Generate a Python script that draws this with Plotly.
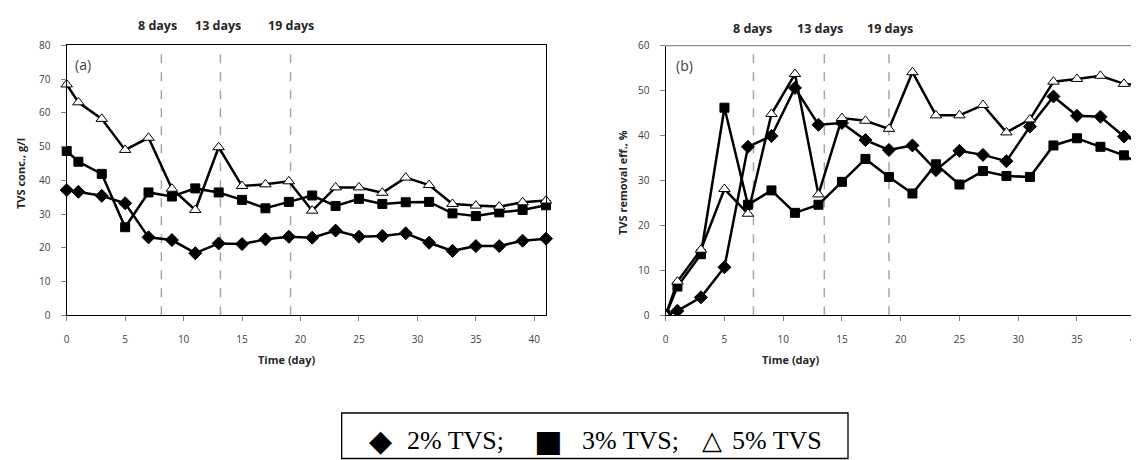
import plotly.graph_objects as go

# ---------------- data ----------------
days = [0, 1, 3, 5, 7, 9, 11, 13, 15, 17, 19, 21, 23, 25, 27, 29, 31, 33, 35, 37, 39, 41]

conc_2 = [37.1, 36.6, 35.4, 33.2, 23.1, 22.3, 18.4, 21.3, 21.1, 22.5, 23.3, 23.0, 25.1, 23.3, 23.5, 24.3, 21.5, 19.1, 20.5, 20.5, 22.1, 22.7]
conc_3 = [48.7, 45.5, 41.9, 26.1, 36.4, 35.2, 37.6, 36.4, 34.2, 31.7, 33.6, 35.5, 32.4, 34.5, 33.0, 33.5, 33.6, 30.2, 29.4, 30.5, 31.2, 32.6]
conc_5 = [68.4, 63.1, 58.2, 49.0, 52.6, 37.5, 31.2, 49.8, 38.3, 38.8, 39.7, 31.0, 37.9, 37.9, 36.3, 40.8, 38.6, 33.0, 32.5, 32.2, 33.5, 34.0]

rem_2 = [0, 1.0, 4.0, 10.7, 37.5, 39.9, 50.6, 42.4, 42.8, 39.0, 36.8, 37.8, 32.3, 36.6, 35.7, 34.3, 42.0, 48.7, 44.4, 44.2, 39.8, 38.2]
rem_3 = [0, 6.4, 13.6, 46.2, 24.6, 27.8, 22.8, 24.6, 29.7, 34.8, 30.8, 27.1, 33.6, 29.1, 32.1, 31.0, 30.8, 37.8, 39.4, 37.5, 35.6, 32.8]
rem_5 = [0, 7.5, 14.6, 28.1, 22.6, 44.8, 53.7, 26.9, 43.9, 43.3, 41.5, 54.1, 44.5, 44.5, 46.8, 40.7, 43.6, 52.0, 52.6, 53.3, 51.5, 51.1]

series_names = ["2% TVS", "3% TVS", "5% TVS"]
marker_labels = ["◆", "■", "△"]

marks_a = [8.1, 13.15, 19.15]
marks_b = [7.47, 13.5, 19.0]
mark_labels = ["8 days", "13 days", "19 days"]

x_ticks = [0, 5, 10, 15, 20, 25, 30, 35, 40]

# ---------------- layout helpers ----------------
# page body has an 8px margin, so the figure is sized to fill the window exactly
OFF = 8
W, H = 1139 - OFF, 460 - OFF


def px(x):
    return (x - OFF) / W


def py(y):
    return 1 - (y - OFF) / H


styles = [
    dict(symbol="diamond", size=10, color="black", line=dict(color="black", width=1)),
    dict(symbol="square", size=9, color="black", line=dict(color="black", width=1)),
    dict(symbol="triangle-up", size=10, color="white", line=dict(color="black", width=1)),
]

fig = go.Figure()
for vals, st, name in zip([conc_2, conc_3, conc_5], styles, series_names):
    fig.add_trace(go.Scatter(x=days, y=vals, xaxis="x", yaxis="y", name=name,
                             mode="lines+markers", line=dict(color="black", width=2.5),
                             marker=st, cliponaxis=False, showlegend=False))
for vals, st, name in zip([rem_2, rem_3, rem_5], styles, series_names):
    fig.add_trace(go.Scatter(x=days, y=vals, xaxis="x2", yaxis="y2", name=name,
                             mode="lines+markers", line=dict(color="black", width=2.5),
                             marker=st, cliponaxis=True, showlegend=False))

tickfont = dict(family="Open Sans, sans-serif", size=10, color="#404040")
common_x = dict(tickvals=x_ticks, ticks="outside", ticklen=5, tickcolor="#808080",
                tickfont=tickfont, showgrid=False, zeroline=False, automargin=False,
                linecolor="black", linewidth=1.3, ticklabelstandoff=10,
                ticklabeloverflow="allow")
common_y = dict(ticks="outside", ticklen=5, tickcolor="#808080", dtick=10,
                tickfont=tickfont, showgrid=False, zeroline=False, automargin=False,
                linecolor="black", linewidth=1.3, ticklabelstandoff=8)

right_px = 1139  # right edge of visible right panel
fig.update_layout(
    width=W, height=H, autosize=False,
    margin=dict(l=0, r=0, t=0, b=0, pad=0),
    paper_bgcolor="white", plot_bgcolor="white",
    xaxis=dict(domain=[px(66.7), px(546)], range=[0, 41], anchor="y", mirror=True, **common_x),
    yaxis=dict(domain=[py(315.3), py(45.3)], range=[0, 80], anchor="x", mirror=True, **common_y),
    xaxis2=dict(domain=[px(665.7), 1.0], range=[0, (right_px - 665.7) / 11.75], anchor="y2", **common_x),
    yaxis2=dict(domain=[py(315.3), py(45.7)], range=[0, 60], anchor="x2", **common_y),
)

shapes = []
for xv in marks_a:
    shapes.append(dict(type="line", xref="x", yref="y domain", x0=xv, x1=xv, y0=0, y1=1,
                       line=dict(color="#a6a6a6", width=1.5, dash="dash"), layer="below"))
for xv in marks_b:
    shapes.append(dict(type="line", xref="x2", yref="y2 domain", x0=xv, x1=xv, y0=0, y1=1,
                       line=dict(color="#a6a6a6", width=1.5, dash="dash"), layer="below"))
# top border of right panel (gray)
shapes.append(dict(type="line", xref="paper", yref="paper", x0=px(665.7), x1=1.0,
                   y0=py(45.7), y1=py(45.7), line=dict(color="#8c8c8c", width=1.3)))
# legend box
shapes.append(dict(type="rect", xref="paper", yref="paper", x0=px(341.7), x1=px(848),
                   y0=py(458.5), y1=py(413), line=dict(color="black", width=1.3),
                   fillcolor="white"))
fig.update_layout(shapes=shapes)

ann = []
bold = dict(family="Open Sans, sans-serif", size=12.5, color="#262626")
for xv, lab in zip([157, 218, 291], mark_labels):
    ann.append(dict(x=px(xv), y=py(25.7), text="<b>%s</b>" % lab, showarrow=False,
                    xref="paper", yref="paper", xanchor="center", yanchor="middle", font=bold))
for xv, lab in zip([752.5, 820, 890], mark_labels):
    ann.append(dict(x=px(xv), y=py(28.6), text="<b>%s</b>" % lab, showarrow=False,
                    xref="paper", yref="paper", xanchor="center", yanchor="middle", font=bold))

panel_font = dict(family="Open Sans, sans-serif", size=14, color="#404040")
ann.append(dict(x=px(83), y=py(64.5), text="(a)", showarrow=False, xref="paper", yref="paper",
                xanchor="center", yanchor="middle", font=panel_font))
ann.append(dict(x=px(684.5), y=py(65), text="(b)", showarrow=False, xref="paper", yref="paper",
                xanchor="center", yanchor="middle", font=panel_font))

title_font = dict(family="Open Sans, sans-serif", size=11, color="#262626")
ann.append(dict(x=px(20), y=py(174), text="<b>TVS conc., g/l</b>", textangle=-90, showarrow=False,
                xref="paper", yref="paper", xanchor="center", yanchor="middle", font=title_font))
ann.append(dict(x=px(622), y=py(183), text="<b>TVS removal eff., %</b>", textangle=-90, showarrow=False,
                xref="paper", yref="paper", xanchor="center", yanchor="middle", font=title_font))
ann.append(dict(x=px(286), y=py(359), text="<b>Time (day)</b>", showarrow=False,
                xref="paper", yref="paper", xanchor="center", yanchor="middle", font=title_font))
ann.append(dict(x=px(790), y=py(359), text="<b>Time (day)</b>", showarrow=False,
                xref="paper", yref="paper", xanchor="center", yanchor="middle", font=title_font))

# legend (drawn manually)
leg_font = dict(family="Liberation Serif, Times New Roman, serif", size=26, color="black")
sym_sizes = [30, 30, 26]
sym_x = [380, 548, 711.7]
txt_x = [405, 580, 730]
leg_texts = [series_names[0] + ";", series_names[1] + ";", series_names[2]]
for sx, tx, sym, t, ss in zip(sym_x, txt_x, marker_labels, leg_texts, sym_sizes):
    ann.append(dict(x=px(sx), y=py(440), text=sym, showarrow=False, xref="paper", yref="paper",
                    xanchor="center", yanchor="middle",
                    font=dict(family="DejaVu Sans, sans-serif", size=ss, color="black")))
    ann.append(dict(x=px(tx), y=py(440), text=t, showarrow=False, xref="paper", yref="paper",
                    xanchor="left", yanchor="middle", font=leg_font))

fig.update_layout(annotations=ann)

fig.write_html("out.html")
